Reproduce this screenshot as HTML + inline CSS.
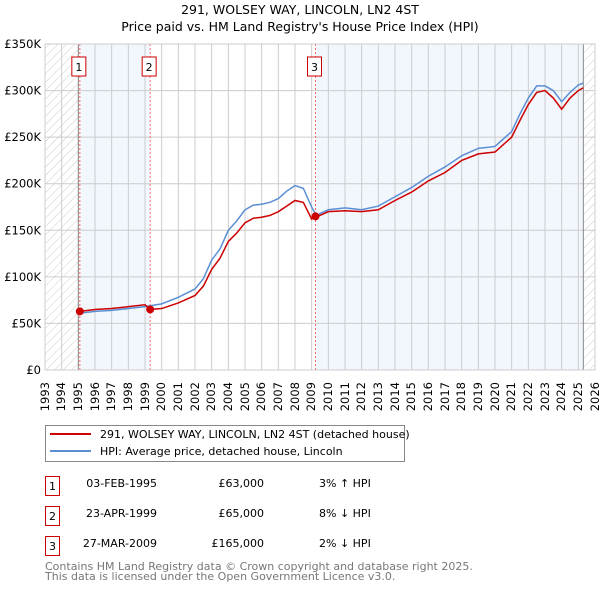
<!DOCTYPE html>
<html><head><meta charset="utf-8"><style>
body{margin:0;background:#fff;font-family:"DejaVu Sans","Liberation Sans",sans-serif;}
#wrap{position:relative;width:600px;height:590px;}
.xl{position:absolute;top:382px;font-size:11.5px;line-height:13px;writing-mode:vertical-rl;transform:rotate(180deg);white-space:nowrap;font-family:"DejaVu Sans","Liberation Sans",sans-serif;}
</style></head><body>
<div id="wrap">
<svg width="600" height="590" xmlns="http://www.w3.org/2000/svg" font-family="DejaVu Sans, Liberation Sans, sans-serif" style="position:absolute;left:0;top:0">
<defs><pattern id="hatch" width="6" height="6" patternUnits="userSpaceOnUse" patternTransform="rotate(45)"><line x1="0" y1="0" x2="0" y2="6" stroke="#ccc" stroke-width="1"/></pattern></defs>
<text x="300" y="14" text-anchor="middle" font-size="12.5">291, WOLSEY WAY, LINCOLN, LN2 4ST</text>
<text x="300" y="31" text-anchor="middle" font-size="12.5">Price paid vs. HM Land Registry's House Price Index (HPI)</text>
<g id="plot"></g>
<g>
<rect x="45.5" y="425.5" width="359" height="36" fill="#fff" stroke="#888"/>
<line x1="50" y1="434" x2="91" y2="434" stroke="#cc0000" stroke-width="2"/>
<text x="100" y="438" font-size="11">291, WOLSEY WAY, LINCOLN, LN2 4ST (detached house)</text>
<line x1="50" y1="451" x2="91" y2="451" stroke="#5b8fd4" stroke-width="2"/>
<text x="100" y="455" font-size="11">HPI: Average price, detached house, Lincoln</text>
</g>
<g font-size="11">
<rect x="45.5" y="476.5" width="14" height="19" fill="none" stroke="#cc0000"/><text x="52.5" y="490" text-anchor="middle">1</text>
<text x="157" y="487" text-anchor="end">03-FEB-1995</text><text x="264" y="487" text-anchor="end">£63,000</text><text x="319" y="487">3% ↑ HPI</text>
<rect x="45.5" y="506.5" width="14" height="19" fill="none" stroke="#cc0000"/><text x="52.5" y="520" text-anchor="middle">2</text>
<text x="157" y="517" text-anchor="end">23-APR-1999</text><text x="264" y="517" text-anchor="end">£65,000</text><text x="319" y="517">8% ↓ HPI</text>
<rect x="45.5" y="536.5" width="14" height="19" fill="none" stroke="#cc0000"/><text x="52.5" y="550" text-anchor="middle">3</text>
<text x="157" y="547" text-anchor="end">27-MAR-2009</text><text x="264" y="547" text-anchor="end">£165,000</text><text x="319" y="547">2% ↓ HPI</text>
</g>
<text x="45" y="570" font-size="11" fill="#777">Contains HM Land Registry data © Crown copyright and database right 2025.</text>
<text x="45" y="580" font-size="11" fill="#777">This data is licensed under the Open Government Licence v3.0.</text>
</svg>
<div id="xlabels"></div>
</div>
<script>
const years=[1993,1994,1995,1996,1997,1998,1999,2000,2001,2002,2003,2004,2005,2006,2007,2008,2009,2010,2011,2012,2013,2014,2015,2016,2017,2018,2019,2020,2021,2022,2023,2024,2025,2026];
const yTicks=[0,50000,100000,150000,200000,250000,300000,350000];
const yTickLabels=["£0","£50K","£100K","£150K","£200K","£250K","£300K","£350K"];
const hpiDates=[1995.09,1996,1997,1998,1999,2000,2001,2002,2002.5,2003,2003.5,2004,2004.5,2005,2005.5,2006,2006.5,2007,2007.5,2008,2008.5,2009,2009.3,2009.5,2010,2011,2012,2013,2014,2015,2016,2017,2018,2019,2020,2021,2021.5,2022,2022.5,2023,2023.5,2024,2024.5,2025,2025.3];
const hpiValues=[61000,63000,64000,66000,68000,71000,78000,87000,98000,118000,130000,150000,160000,172000,177000,178000,180000,184000,192000,198000,195000,175000,165000,168000,172000,174000,172000,176000,186000,196000,208000,218000,230000,238000,240000,256000,275000,292000,305000,305000,300000,288000,298000,306000,308000];
const priceDates=[1995.09,1996,1997,1998,1999,1999.31,2000,2001,2002,2002.5,2003,2003.5,2004,2004.5,2005,2005.5,2006,2006.5,2007,2007.5,2008,2008.5,2009,2009.23,2009.5,2010,2011,2012,2013,2014,2015,2016,2017,2018,2019,2020,2021,2021.5,2022,2022.5,2023,2023.5,2024,2024.5,2025,2025.3];
const priceValues=[63000,65000,66000,68000,70000,65000,66000,72000,80000,90000,108000,120000,138000,147000,158000,163000,164000,166000,170000,176000,182000,180000,162000,165000,166000,170000,171000,170000,172000,182000,191000,203000,212000,225000,232000,234000,250000,268000,285000,298000,300000,292000,280000,292000,300000,303000];
const saleDates=[1995.09,1999.31,2009.23];
const saleValues=[63000,65000,165000];
const saleLabels=["1","2","3"];
const X0=45,X1=595,Y0=370,Y1=44,xmin=1993,xmax=2026,ymax=350000,dataEnd=2025.3;
const xs=v=>X0+(v-xmin)/(xmax-xmin)*(X1-X0);
const ys=v=>Y0-v/ymax*(Y0-Y1);
const NS="http://www.w3.org/2000/svg";
const g=document.getElementById('plot');
function mk(t,a){const e=document.createElementNS(NS,t);for(const k in a)e.setAttribute(k,a[k]);g.appendChild(e);return e;}
let r=mk('rect',{x:xs(saleDates[0]),y:Y1,width:xs(saleDates[1])-xs(saleDates[0]),height:Y0-Y1,fill:'#f2f6fd'});


r=mk('rect',{x:xs(saleDates[2]),y:Y1,width:xs(dataEnd)-xs(saleDates[2]),height:Y0-Y1,fill:'#f2f6fd'});


r=mk('rect',{x:X0,y:Y1,width:xs(1995)-X0,height:Y0-Y1,fill:'url(#hatch)'});


r=mk('rect',{x:xs(dataEnd),y:Y1,width:X1-xs(dataEnd),height:Y0-Y1,fill:'url(#hatch)'});


const xl=document.getElementById('xlabels');
years.forEach(y=>{const l=mk('line',{x1:xs(y),x2:xs(y),y1:Y1,y2:Y0,stroke:'#cccccc'});


const d=document.createElement('div');d.className='xl';d.style.left=(xs(y)-6.5)+'px';d.textContent=y;


xl.appendChild(d);});
yTicks.forEach((v,i)=>{const l=mk('line',{x1:X0,x2:X1,y1:ys(v),y2:ys(v),stroke:'#cccccc'});


const t=mk('text',{x:41,y:ys(v)+4,'font-size':'11.5','text-anchor':'end'});t.textContent=yTickLabels[i];

});
[xs(1995),xs(dataEnd)].forEach(x=>{const l=mk('line',{x1:x,x2:x,y1:Y1,y2:Y0,stroke:'#888'});

});
saleDates.forEach((d,i)=>{const l=mk('line',{x1:xs(d),x2:xs(d),y1:Y1,y2:Y0,stroke:'#ff6666','stroke-dasharray':'2,2'});


const b=mk('rect',{x:xs(d)-8,y:57,width:14,height:19,fill:'#fff',stroke:'#cc0000'});


const t=mk('text',{x:xs(d)-1,y:71,'font-size':'11','text-anchor':'middle'});t.textContent=saleLabels[i];

});
let p=mk('polyline',{points:hpiDates.map((d,i)=>xs(d)+','+ys(hpiValues[i])).join(' '),fill:'none',stroke:'#5b8fd4','stroke-width':1.5});


p=mk('polyline',{points:priceDates.map((d,i)=>xs(d)+','+ys(priceValues[i])).join(' '),fill:'none',stroke:'#cc0000','stroke-width':1.5});


saleDates.forEach((d,i)=>{const c=mk('circle',{cx:xs(d),cy:ys(saleValues[i]),r:4,fill:'#cc0000'});

});
const fr=mk('rect',{x:X0,y:Y1,width:X1-X0,height:Y0-Y1,fill:'none',stroke:'#ccc'});


</script>
</body></html>
